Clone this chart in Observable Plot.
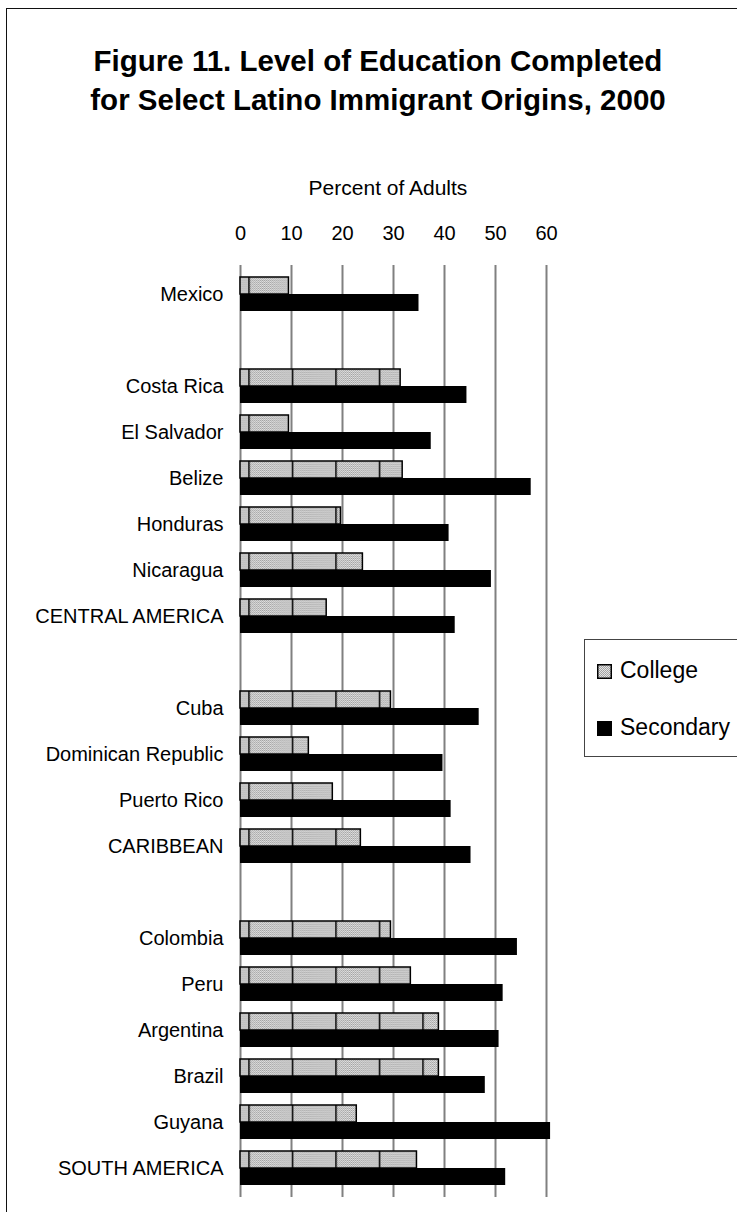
<!DOCTYPE html>
<html>
<head>
<meta charset="utf-8">
<script src="https://cdn.jsdelivr.net/npm/d3@7"></script>
<script src="https://cdn.jsdelivr.net/npm/@observablehq/plot@0.6"></script>
<style>
  body { margin: 0; background: #fff; font-family: "Liberation Sans", Arial, sans-serif; }
  #wrap { position: relative; width: 737px; height: 1212px; overflow: hidden; background: #fff; }
  #frame { position: absolute; left: 6px; top: 8px; width: 800px; height: 1300px; border: 1.5px solid #111; }
  #title { position: absolute; left: 0; width: 756px; top: 41px; text-align: center; font-weight: bold;
           font-size: 29.5px; line-height: 39px; color: #000; }
  #xlabel { position: absolute; left: 228px; width: 320px; top: 178px; text-align: center; font-size: 21px;
            line-height: 20px; color: #000; }
  #chart { position: absolute; left: 0; top: 150px; }
  #legend { position: absolute; left: 584px; top: 639px; width: 220px; height: 116px; border: 1.5px solid #444; background: #fff; }
  .item { position: absolute; left: 12px; font-size: 23px; line-height: 24px; color: #000; white-space: nowrap; }
  .item svg { vertical-align: -1px; margin-right: 8px; }
</style>
</head>
<body>
<div id="wrap">
  <div id="frame"></div>
  <div id="title">Figure 11. Level of Education Completed<br>for Select Latino Immigrant Origins, 2000</div>
  <div id="xlabel">Percent of Adults</div>
  <div id="chart"></div>
  <div id="legend">
    <div class="item" style="top:18px"><svg width="15" height="15"><rect x="0.75" y="0.75" width="13.5" height="13.5" fill="url(#dots)" stroke="#000" stroke-width="1.5"></rect></svg>College</div>
    <div class="item" style="top:75px"><svg width="15" height="15"><rect x="0" y="0" width="15" height="15" fill="#000"></rect></svg>Secondary</div>
  </div>
</div>
<script>
// ---- data ----
const categories = ["Mexico", "gap1", "Costa Rica", "El Salvador", "Belize", "Honduras", "Nicaragua",
  "CENTRAL AMERICA", "gap2", "Cuba", "Dominican Republic", "Puerto Rico", "CARIBBEAN", "gap3",
  "Colombia", "Peru", "Argentina", "Brazil", "Guyana", "SOUTH AMERICA"];
const origins = ["Mexico", "Costa Rica", "El Salvador", "Belize", "Honduras", "Nicaragua", "CENTRAL AMERICA",
  "Cuba", "Dominican Republic", "Puerto Rico", "CARIBBEAN",
  "Colombia", "Peru", "Argentina", "Brazil", "Guyana", "SOUTH AMERICA"];
const college = [9.5, 31.4, 9.5, 31.8, 19.7, 24.0, 16.9, 29.5, 13.4, 18.1, 23.6, 29.5, 33.4, 38.9, 38.9, 22.8, 34.6];
const secondary = [35.0, 44.4, 37.4, 57.0, 40.9, 49.2, 42.1, 46.8, 39.7, 41.3, 45.2, 54.3, 51.5, 50.7, 48.0, 60.8, 52.0];
const xTicks = [0, 10, 20, 30, 40, 50, 60];

const rows = origins.map((o, i) => ({origin: o, college: college[i], secondary: secondary[i]}));

const chart = Plot.plot({
  width: 737,
  height: 1062,
  marginLeft: 240,
  marginRight: 191,
  marginTop: 115,
  marginBottom: 15,
  style: {fontFamily: "'Liberation Sans', Arial, sans-serif", fontSize: "20px", color: "#000", background: "transparent", overflow: "visible"},
  x: {domain: [0, 60], axis: "top", ticks: xTicks, tickSize: 0, tickPadding: 26, label: null},
  y: {domain: categories, paddingInner: 0.27, paddingOuter: 0.135, tickSize: 0, tickPadding: 17,
      tickFormat: d => d.startsWith("gap") ? "" : d, label: null},
  marks: [
    Plot.ruleX(xTicks, {stroke: "#808080", strokeWidth: 2}),
    Plot.barX(rows, {x: "college", y: "origin", insetBottom: 17, fill: "url(#collegePattern)", stroke: "#000", strokeWidth: 1.5}),
    Plot.barX(rows, {x: "secondary", y: "origin", insetTop: 17, fill: "#000"})
  ]
});

const x0 = chart.scale("x").apply(0);
const defs = d3.select(chart).insert("defs", ":first-child");
const dots = defs.append("pattern").attr("id", "dots").attr("patternUnits", "userSpaceOnUse")
  .attr("width", 2).attr("height", 2);
dots.append("rect").attr("width", 2).attr("height", 2).attr("fill", "#e4e4e4");
dots.append("rect").attr("width", 1).attr("height", 1).attr("fill", "#a0a0a0");
dots.append("rect").attr("x", 1).attr("y", 1).attr("width", 1).attr("height", 1).attr("fill", "#a8a8a8");
const cp = defs.append("pattern").attr("id", "collegePattern").attr("patternUnits", "userSpaceOnUse")
  .attr("x", x0 + 8.25).attr("y", 0).attr("width", 43.5).attr("height", 10);
cp.append("rect").attr("width", 43.5).attr("height", 10).attr("fill", "url(#dots)");
cp.append("rect").attr("width", 1.5).attr("height", 10).attr("fill", "#000");

document.getElementById("chart").appendChild(chart);
</script>
</body>
</html>
